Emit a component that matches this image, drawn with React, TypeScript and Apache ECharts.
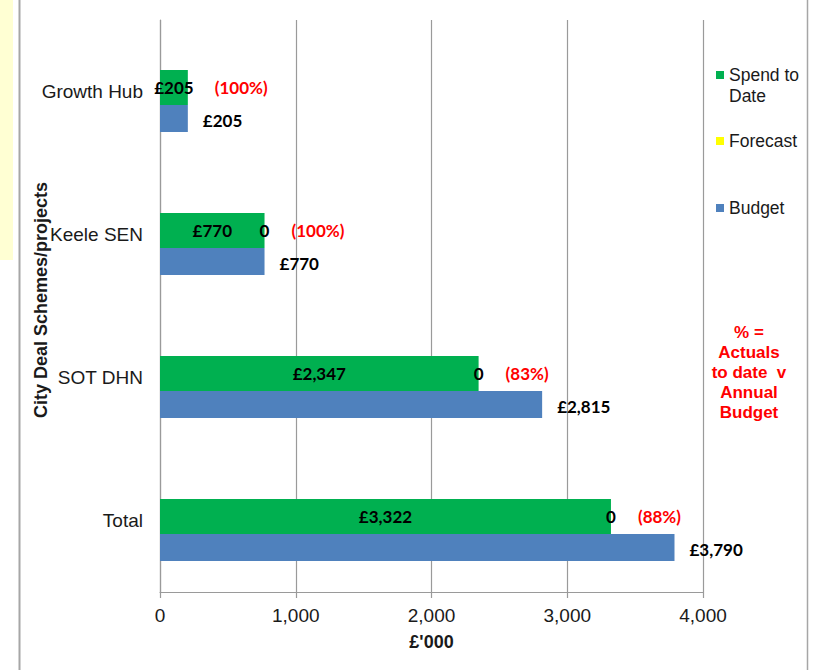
import React, { useEffect, useRef } from "react";
import * as echarts from "echarts";

const categories = ["Growth Hub", "Keele SEN", "SOT DHN", "Total"];
const spendToDate = [205, 770, 2347, 3322];
const forecast = [0, 0, 0, 0];
const budget = [205, 770, 2815, 3790];
const pctLabels = ["(100%)", "(100%)", "(83%)", "(88%)"];
const xTicks = [0, 1000, 2000, 3000, 4000];
const noteLines = ["% =", "Actuals", "to date  v", "Annual", "Budget"];

const fmt = (v: number) => String(v).replace(/\B(?=(\d{3})+(?!\d))/g, ",");

export default function App() {
  const ref = useRef<HTMLDivElement>(null);
  useEffect(() => {
    if (!ref.current) return;
    const chart = echarts.init(ref.current, null, { renderer: "svg" });
    const barLabel = {
      fontFamily: "Lato",
      fontWeight: "bold" as const,
      fontSize: 17,
      color: "#000",
    };
    const legendText = { fontFamily: "Liberation Sans", fontSize: 17.5, color: "#1a1a1a", lineHeight: 20 };
    chart.setOption({
      animation: false,
      backgroundColor: "#fff",
      grid: { left: 160, right: 114, top: 20, bottom: 78, containLabel: false },
      legend: [
        { data: ["Spend to Date"], left: 716, top: 65, orient: "vertical", padding: 0, itemWidth: 8, itemHeight: 8, icon: "rect", selectedMode: false, textStyle: legendText, formatter: () => "Spend to" },
        { data: ["Forecast"], left: 716, top: 131, orient: "vertical", padding: 0, itemWidth: 8, itemHeight: 8, icon: "rect", selectedMode: false, textStyle: legendText },
        { data: ["Budget"], left: 716, top: 198, orient: "vertical", padding: 0, itemWidth: 8, itemHeight: 8, icon: "rect", selectedMode: false, textStyle: legendText },
      ],
      xAxis: {
        type: "value",
        min: xTicks[0],
        max: xTicks[xTicks.length - 1],
        interval: xTicks[1] - xTicks[0],
        name: "£'000",
        nameLocation: "middle",
        nameGap: 41,
        nameMoveOverlap: false,
        nameTextStyle: { fontFamily: "Liberation Sans", fontWeight: "bold", fontSize: 18, color: "#1a1a1a" },
        axisLine: { show: true, lineStyle: { color: "#9a9a9a", width: 1.2 } },
        axisTick: { show: true, length: 6, lineStyle: { color: "#9a9a9a", width: 1.2 } },
        splitLine: { show: true, lineStyle: { color: "#9a9a9a", width: 1.2 } },
        axisLabel: { fontFamily: "Liberation Sans", fontSize: 19, color: "#1a1a1a", margin: 14, formatter: (v: number) => fmt(v) },
      },
      yAxis: {
        type: "category",
        inverse: true,
        data: categories,
        name: "City Deal Schemes/projects",
        nameLocation: "middle",
        nameGap: 110,
        nameMoveOverlap: false,
        nameTextStyle: { fontFamily: "Liberation Sans", fontWeight: "bold", fontSize: 18, color: "#1a1a1a", padding: [0, 0, 0, 12] },
        axisLine: { show: true, lineStyle: { color: "#9a9a9a", width: 1.2 } },
        axisTick: { show: false },
        splitLine: { show: false },
        axisLabel: { fontFamily: "Liberation Sans", fontSize: 19, color: "#1a1a1a", margin: 17 },
      },
      series: [
        {
          type: "bar",
          name: "pad",
          data: categories.map(() => 0),
          barWidth: 19,
          barGap: 0,
          silent: true,
          itemStyle: { color: "rgba(0,0,0,0)" },
          label: { show: false },
        },
        {
          type: "bar",
          name: "Spend to Date",
          stack: "a",
          stackStrategy: "all",
          data: spendToDate,
          barWidth: 35,
          barGap: 0,
          itemStyle: { color: "#00B050" },
          labelLayout: { hideOverlap: true },
          label: { show: true, position: "inside", offset: [0, 4], formatter: (p: any) => "£" + fmt(p.value), ...barLabel },
        },
        {
          type: "bar",
          name: "Forecast",
          stack: "a",
          stackStrategy: "all",
          data: forecast,
          barWidth: 35,
          barGap: 0,
          itemStyle: { color: "#FFFF00" },
          labelLayout: { hideOverlap: true },
          label: { show: true, position: "inside", offset: [0, 4], formatter: (p: any) => String(p.value), ...barLabel },
        },
        {
          type: "bar",
          name: "pct",
          stack: "a",
          stackStrategy: "all",
          data: categories.map(() => 0),
          barWidth: 35,
          barGap: 0,
          silent: true,
          itemStyle: { color: "rgba(0,0,0,0)" },
          label: { show: true, position: "right", distance: 27, formatter: (p: any) => pctLabels[p.dataIndex], ...barLabel, color: "#FF0000" },
        },
        {
          type: "bar",
          name: "Budget",
          data: budget,
          barWidth: 27,
          barGap: 0,
          itemStyle: { color: "#4F81BD" },
          label: { show: true, position: "right", distance: 15, offset: [0, 2], formatter: (p: any) => "£" + fmt(p.value), ...barLabel },
        },
      ],
      graphic: [
        { type: "rect", shape: { x: 0, y: 0, width: 13, height: 260 }, style: { fill: "#FFFFD3" }, silent: true },
        { type: "line", shape: { x1: 19.5, y1: 0, x2: 19.5, y2: 670 }, style: { stroke: "#a6a6a6", lineWidth: 2 }, silent: true },
        { type: "line", shape: { x1: 807.5, y1: 0, x2: 807.5, y2: 670 }, style: { stroke: "#a6a6a6", lineWidth: 1.5 }, silent: true },
        { type: "text", x: 729, y: 96, style: { text: "Date", fontFamily: "Liberation Sans", fontSize: 17.5, fill: "#1a1a1a", verticalAlign: "middle", align: "left" }, silent: true },
        {
          type: "text",
          x: 749,
          y: 322,
          style: {
            text: noteLines.join("\n"),
            fontFamily: "Liberation Sans",
            fontWeight: "bold",
            fontSize: 17,
            lineHeight: 20,
            fill: "#FF0000",
            align: "center",
            verticalAlign: "top",
          },
          silent: true,
        },
      ],
    });
    return () => chart.dispose();
  }, []);
  return <div ref={ref} style={{ position: "absolute", left: 0, top: 0, width: 817, height: 670 }} />;
}
